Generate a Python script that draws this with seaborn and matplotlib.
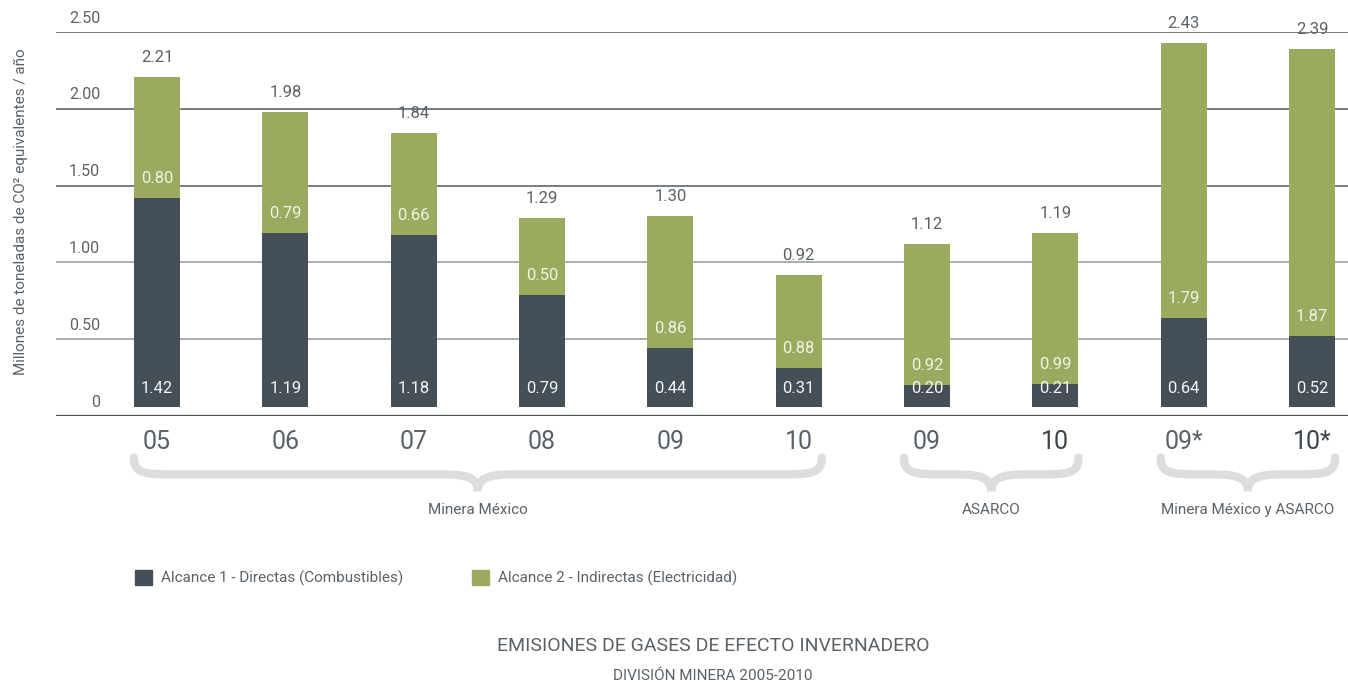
import matplotlib
matplotlib.use("Agg")
import matplotlib.pyplot as plt
from matplotlib.path import Path
from matplotlib.patches import PathPatch, Patch
import seaborn as sns

# data
keys = ["MM05", "MM06", "MM07", "MM08", "MM09", "MM10", "AS09", "AS10", "MA09", "MA10"]
tick_labels = ["05", "06", "07", "08", "09", "10", "09", "10", "09*", "10*"]
alcance1 = [1.42, 1.19, 1.18, 0.79, 0.44, 0.31, 0.20, 0.21, 0.64, 0.52]
alcance2 = [0.80, 0.79, 0.66, 0.50, 0.86, 0.88, 0.92, 0.99, 1.79, 1.87]
totals = [2.21, 1.98, 1.84, 1.29, 1.30, 0.92, 1.12, 1.19, 2.43, 2.39]
group_names = ["Minera México", "ASARCO", "Minera México y ASARCO"]
group_first = [0, 6, 8]
group_last = [5, 7, 9]
ytick_vals = [0, 0.5, 1.0, 1.5, 2.0, 2.5]
ytick_labels = ["0", "0.50", "1.00", "1.50", "2.00", "2.50"]

DARK = "#444f57"
GREEN = "#9aab5f"
TEXT = "#5a6268"
BRACE = "#dcdddd"

sns.set_style("white")
plt.rcParams["font.family"] = ["Liberation Sans Narrow", "Roboto", "DejaVu Sans"]

fig = plt.figure(figsize=(13.48, 6.88), dpi=100)
ax = fig.add_axes([56 / 1348, (688 - 416) / 688, 1292 / 1348, 384 / 688])

# gridlines (upper ones darker, like the source)
grid_colors = ["#4a535a", "#9a9fa3", "#9a9fa3", "#5f676d", "#5f676d", "#5f676d"]
for v, c in zip(ytick_vals[1:], grid_colors[1:]):
    ax.axhline(v, color=c, lw=1.2, zorder=0)

# stacked bars: total (green) behind, direct (dark) in front
sns.barplot(x=keys, y=totals, order=keys, color=GREEN, saturation=1, width=0.36,
            errorbar=None, linewidth=0, ax=ax, zorder=1)
sns.barplot(x=keys, y=alcance1, order=keys, color=DARK, saturation=1, width=0.36,
            errorbar=None, linewidth=0, ax=ax, zorder=2)

# small white gap between bars and baseline
ax.axhspan(0, 0.058, color="white", zorder=3, lw=0)
ax.axhline(0, color="#4a535a", lw=2.4, zorder=4)

for i, (a1, a2, t) in enumerate(zip(alcance1, alcance2, totals)):
    ax.annotate(f"{t:.2f}", (i, t), xytext=(0, 14), textcoords="offset points",
                ha="center", va="center", fontsize=12, color=TEXT, zorder=5)
    ax.annotate(f"{a2:.2f}", (i, a1), xytext=(0, 14), textcoords="offset points",
                ha="center", va="center", fontsize=12, color="#f1f3e4", zorder=5)
    ax.annotate(f"{a1:.2f}", (i, 0), xytext=(0, 19.5), textcoords="offset points",
                ha="center", va="center", fontsize=12, color="#f4f5f6", zorder=5)

for v, lab in zip(ytick_vals, ytick_labels):
    ax.annotate(lab, (44 / 1292, v), xycoords=("axes fraction", "data"), xytext=(0, 10),
                textcoords="offset points", ha="right", va="center", fontsize=11.5,
                color=TEXT, annotation_clip=False)

ax.set_xlim(-0.787, 9.28)
ax.set_ylim(0, 2.5)
ax.set_yticks([])
ax.set_xticks(range(len(keys)))
ax.set_xticklabels(tick_labels)
ax.tick_params(axis="x", length=0, pad=10, labelsize=18, labelcolor=TEXT)
for lab in ax.get_xticklabels()[7:8] + ax.get_xticklabels()[9:]:
    lab.set_color("#3d454b")
for s in ax.spines.values():
    s.set_visible(False)
ax.set_xlabel("")
ax.set_ylabel("Millones de toneladas de CO² equivalentes / año", fontsize=11, color=TEXT)
ax.yaxis.set_label_coords(-0.0217, 0.531)

# group braces under the x labels
tr = ax.get_xaxis_transform()
yt, yh, yp = -0.108, -0.152, -0.196
r = 0.32
for name, a, b in zip(group_names, group_first, group_last):
    x0, x1 = a - 0.18, b + 0.18
    xm = (x0 + x1) / 2
    verts = [(x0, yt), (x0, yh), (x0 + 0.3 * r, yh), (x0 + r, yh),
             (xm - r, yh),
             (xm - 0.45 * r, yh), (xm, yh), (xm, yp),
             (xm, yh), (xm + 0.45 * r, yh), (xm + r, yh),
             (x1 - r, yh),
             (x1 - 0.3 * r, yh), (x1, yh), (x1, yt)]
    codes = [Path.MOVETO, Path.CURVE4, Path.CURVE4, Path.CURVE4, Path.LINETO,
             Path.CURVE4, Path.CURVE4, Path.CURVE4, Path.CURVE4, Path.CURVE4, Path.CURVE4,
             Path.LINETO, Path.CURVE4, Path.CURVE4, Path.CURVE4]
    ax.add_patch(PathPatch(Path(verts, codes), transform=tr, facecolor="none",
                           edgecolor=BRACE, lw=6, capstyle="round", clip_on=False))
    ax.text(xm, -0.245, name, transform=tr, ha="center", va="center",
            fontsize=11, color=TEXT)

handles = [Patch(color=DARK, label="Alcance 1 - Directas (Combustibles)"),
           Patch(color=GREEN, label="Alcance 2 - Indirectas (Electricidad)")]
fig.legend(handles=handles, loc="center left", bbox_to_anchor=(135 / 1348, 1 - 578 / 688),
           ncol=2, frameon=False, handlelength=1.1, handleheight=1.1, handletextpad=0.6,
           columnspacing=4.5, borderpad=0, borderaxespad=0, fontsize=11, labelcolor=TEXT)

fig.text(713 / 1348, 1 - 646 / 688, "EMISIONES DE GASES DE EFECTO INVERNADERO",
         ha="center", va="center", fontsize=14, color=TEXT)
fig.text(713 / 1348, 1 - 676 / 688, "DIVISIÓN MINERA 2005-2010",
         ha="center", va="center", fontsize=11, color=TEXT)

fig.savefig("out.png", dpi=100)
